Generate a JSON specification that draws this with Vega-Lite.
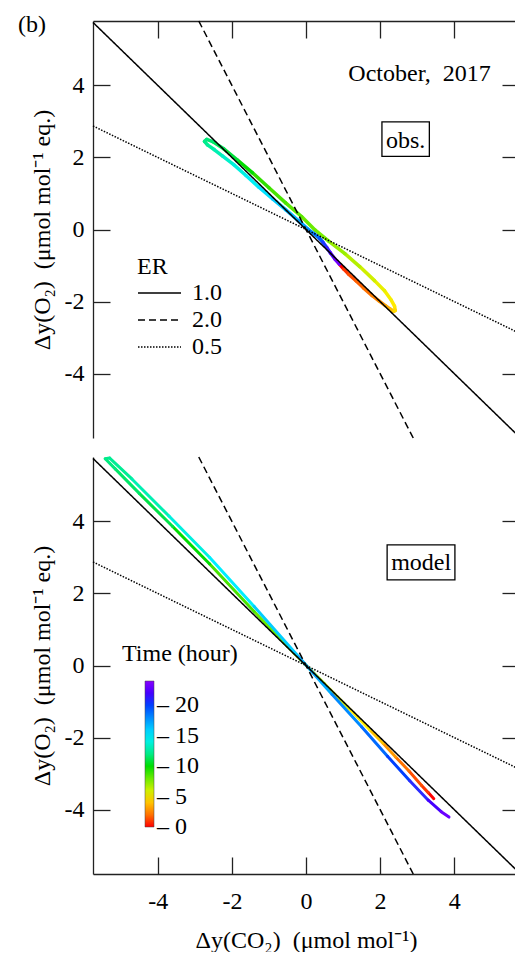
{
  "$schema": "https://vega.github.io/schema/vega-lite/v6.json",
  "autosize": {"type": "pad"},
  "padding": {"left": 17, "top": 13, "right": 0, "bottom": 0},
  "background": "white",
  "bounds": "flush",
  "spacing": 19,
  "config": {
    "font": "Liberation Serif",
    "view": {"stroke": null},
    "axis": {
      "labelFont": "Liberation Serif", "labelFontSize": 24, "labelColor": "black",
      "titleFont": "Liberation Serif", "titleFontSize": 24, "titleFontWeight": "normal", "titleColor": "black",
      "domainColor": "#222", "tickColor": "#222", "domainWidth": 1.3, "tickWidth": 1.3, "grid": false
    },
    "legend": {
      "labelFont": "Liberation Serif", "labelFontSize": 24, "labelColor": "black",
      "titleFont": "Liberation Serif", "titleFontSize": 24, "titleFontWeight": "normal", "titleColor": "black",
      "padding": 0
    },
    "text": {"font": "Liberation Serif", "fontSize": 24, "color": "black"}
  },
  "datasets": {
    "loop": [
      {"p":"obs","i":0,"t":0,"x":0.90,"y":-0.96},
      {"p":"obs","i":1,"t":0.5,"x":1.02,"y":-1.10},
      {"p":"obs","i":2,"t":1,"x":1.15,"y":-1.24},
      {"p":"obs","i":3,"t":1.5,"x":1.35,"y":-1.42},
      {"p":"obs","i":4,"t":2,"x":1.55,"y":-1.62},
      {"p":"obs","i":5,"t":2.5,"x":1.78,"y":-1.83},
      {"p":"obs","i":6,"t":3,"x":1.97,"y":-1.98},
      {"p":"obs","i":7,"t":3.5,"x":2.15,"y":-2.12},
      {"p":"obs","i":8,"t":4,"x":2.29,"y":-2.22},
      {"p":"obs","i":9,"t":4.3,"x":2.37,"y":-2.27},
      {"p":"obs","i":10,"t":4.6,"x":2.41,"y":-2.25},
      {"p":"obs","i":11,"t":4.9,"x":2.39,"y":-2.13},
      {"p":"obs","i":12,"t":5.2,"x":2.30,"y":-1.96},
      {"p":"obs","i":13,"t":5.5,"x":2.12,"y":-1.70},
      {"p":"obs","i":14,"t":6,"x":1.85,"y":-1.42},
      {"p":"obs","i":15,"t":6.5,"x":1.45,"y":-1.03},
      {"p":"obs","i":16,"t":7,"x":1.05,"y":-0.67},
      {"p":"obs","i":17,"t":7.5,"x":0.62,"y":-0.33},
      {"p":"obs","i":18,"t":8,"x":0.25,"y":-0.02},
      {"p":"obs","i":19,"t":8.5,"x":-0.12,"y":0.36},
      {"p":"obs","i":20,"t":9,"x":-0.55,"y":0.74},
      {"p":"obs","i":21,"t":9.5,"x":-1.00,"y":1.16},
      {"p":"obs","i":22,"t":10,"x":-1.45,"y":1.58},
      {"p":"obs","i":23,"t":10.5,"x":-1.85,"y":1.93},
      {"p":"obs","i":24,"t":11,"x":-2.22,"y":2.24},
      {"p":"obs","i":25,"t":11.5,"x":-2.52,"y":2.44},
      {"p":"obs","i":26,"t":11.8,"x":-2.68,"y":2.50},
      {"p":"obs","i":27,"t":12.1,"x":-2.74,"y":2.45},
      {"p":"obs","i":28,"t":12.5,"x":-2.66,"y":2.35},
      {"p":"obs","i":29,"t":13,"x":-2.48,"y":2.22},
      {"p":"obs","i":30,"t":13.5,"x":-2.25,"y":2.04},
      {"p":"obs","i":31,"t":14,"x":-1.95,"y":1.80},
      {"p":"obs","i":32,"t":14.6,"x":-1.62,"y":1.50},
      {"p":"obs","i":33,"t":15.4,"x":-1.28,"y":1.18},
      {"p":"obs","i":34,"t":16.1,"x":-0.90,"y":0.85},
      {"p":"obs","i":35,"t":16.7,"x":-0.55,"y":0.55},
      {"p":"obs","i":36,"t":17.3,"x":-0.20,"y":0.24},
      {"p":"obs","i":37,"t":17.8,"x":0.05,"y":0.01},
      {"p":"obs","i":38,"t":18.6,"x":0.22,"y":-0.12},
      {"p":"obs","i":39,"t":19.5,"x":0.36,"y":-0.24},
      {"p":"obs","i":40,"t":20.5,"x":0.46,"y":-0.36},
      {"p":"obs","i":41,"t":21.5,"x":0.56,"y":-0.50},
      {"p":"obs","i":42,"t":22.3,"x":0.66,"y":-0.65},
      {"p":"obs","i":43,"t":23.2,"x":0.78,"y":-0.82},
      {"p":"obs","i":44,"t":24,"x":0.90,"y":-0.96},
      {"p":"model","i":0,"t":0,"x":3.45,"y":-3.70},
      {"p":"model","i":1,"t":0.5,"x":3.30,"y":-3.53},
      {"p":"model","i":2,"t":1,"x":3.12,"y":-3.33},
      {"p":"model","i":3,"t":2,"x":2.78,"y":-2.93},
      {"p":"model","i":4,"t":3,"x":2.42,"y":-2.54},
      {"p":"model","i":5,"t":4,"x":2.08,"y":-2.16},
      {"p":"model","i":6,"t":5,"x":1.72,"y":-1.78},
      {"p":"model","i":7,"t":6,"x":1.15,"y":-1.18},
      {"p":"model","i":8,"t":7,"x":0.50,"y":-0.51},
      {"p":"model","i":9,"t":8,"x":-0.30,"y":0.32},
      {"p":"model","i":10,"t":9,"x":-1.40,"y":1.50},
      {"p":"model","i":11,"t":10,"x":-2.60,"y":2.82},
      {"p":"model","i":12,"t":10.7,"x":-3.60,"y":3.86},
      {"p":"model","i":13,"t":11.3,"x":-4.50,"y":4.78},
      {"p":"model","i":14,"t":11.8,"x":-5.15,"y":5.46},
      {"p":"model","i":15,"t":12.1,"x":-5.42,"y":5.74},
      {"p":"model","i":16,"t":12.4,"x":-5.30,"y":5.76},
      {"p":"model","i":17,"t":13,"x":-4.70,"y":5.18},
      {"p":"model","i":18,"t":14,"x":-3.70,"y":4.15},
      {"p":"model","i":19,"t":15,"x":-2.60,"y":3.00},
      {"p":"model","i":20,"t":16,"x":-1.40,"y":1.64},
      {"p":"model","i":21,"t":17,"x":-0.20,"y":0.24},
      {"p":"model","i":22,"t":18,"x":0.70,"y":-0.80},
      {"p":"model","i":23,"t":19,"x":1.50,"y":-1.70},
      {"p":"model","i":24,"t":20,"x":2.20,"y":-2.52},
      {"p":"model","i":25,"t":21,"x":2.80,"y":-3.20},
      {"p":"model","i":26,"t":22,"x":3.30,"y":-3.74},
      {"p":"model","i":27,"t":23,"x":3.65,"y":-4.06},
      {"p":"model","i":28,"t":24,"x":3.86,"y":-4.21}
    ],
    "er": [
      {"ER":"1.0","x":-5.75,"y":5.75,"x2":5.75,"y2":-5.75},
      {"ER":"2.0","x":-2.895,"y":5.79,"x2":2.895,"y2":-5.79},
      {"ER":"0.5","x":-5.75,"y":2.875,"x2":5.75,"y2":-2.875}
    ],
    "ann": [
      {"p":"obs","label":"(b)","x":-7.40,"y":5.48},
      {"p":"obs","label":"October,\u00a0 2017","x":3.065,"y":4.12},
      {"p":"obs","label":"obs.","x":2.69,"y":2.27},
      {"p":"model","label":"model","x":3.11,"y":2.64}
    ],
    "box": [
      {"p":"obs","x":2.05,"x2":3.33,"y":2.03,"y2":2.99},
      {"p":"model","x":2.19,"x2":4.02,"y":2.38,"y2":3.35}
    ]
  },
  "resolve": {"scale": {"color": "independent", "strokeDash": "independent", "strokeWidth": "independent"}},
  "vconcat": [
    {
      "width": 426,
      "height": 417,
      "resolve": {"axis": {"x": "independent", "y": "independent"}},
      "layer": [
        {
          "data": {"name": "loop"},
          "transform": [
            {"filter": "datum.p == 'obs'"},
            {"window": [{"op": "lead", "field": "x", "as": "xn"}, {"op": "lead", "field": "y", "as": "yn"}], "sort": [{"field": "i"}]},
            {"filter": "isValid(datum.xn)"}
          ],
          "mark": {"type": "rule", "strokeWidth": 3.5, "strokeCap": "round"},
          "encoding": {
            "x": {"field": "x", "type": "quantitative", "scale": {"domain": [-5.75, 5.75], "nice": false, "zero": false}, "axis": null},
            "y": {"field": "y", "type": "quantitative", "scale": {"domain": [-5.79, 5.79], "nice": false, "zero": false},
                  "axis": {"orient": "right", "values": [-4, -2, 0, 2, 4], "labels": false, "tickSize": -17, "title": null}},
            "x2": {"field": "xn"},
            "y2": {"field": "yn"},
            "color": {"field": "t", "type": "quantitative",
              "scale": {"domain": [0, 2.5, 5, 7.5, 10, 12.5, 15, 17.5, 20, 22, 24],
                        "range": ["#ff0000", "#ff8000", "#ffee00", "#77ee00", "#00dd00", "#00ee99", "#00eeff", "#0099ff", "#0040ff", "#4400ff", "#8800ff"]},
              "legend": null}
          }
        },
        {
          "data": {"name": "er"},
          "mark": {"type": "rule", "color": "black"},
          "encoding": {
            "x": {"field": "x", "type": "quantitative", "scale": {"domain": [-5.75, 5.75], "nice": false, "zero": false},
                  "axis": {"orient": "top", "values": [-4, -2, 0, 2, 4], "labels": false, "tickSize": -17, "title": null}},
            "y": {"field": "y", "type": "quantitative", "scale": {"domain": [-5.79, 5.79], "nice": false, "zero": false},
                  "axis": {"orient": "left", "values": [-4, -2, 0, 2, 4], "tickSize": -17, "labelPadding": 26,
                           "labelExpr": "datum.value < 0 ? '-' + abs(datum.value) : '' + datum.value",
                           "title": "Δy(O₂)\u00a0 (μmol mol⁻¹ eq.)", "titlePadding": 10}},
            "x2": {"field": "x2"},
            "y2": {"field": "y2"},
            "strokeDash": {"field": "ER", "type": "nominal",
              "scale": {"domain": ["1.0", "2.0", "0.5"], "range": [[1, 0], [7, 4], [1.5, 1.5]]},
              "legend": {"orient": "none", "legendX": 44, "legendY": 234, "title": "ER",
                         "symbolType": "stroke", "symbolSize": 1849, "symbolStrokeWidth": 1.5, "symbolStrokeColor": "black",
                         "clipHeight": 24, "rowPadding": 3, "labelOffset": 10, "titlePadding": 2}},
            "strokeWidth": {"field": "ER", "type": "nominal",
              "scale": {"domain": ["1.0", "2.0", "0.5"], "range": [1.5, 1.5, 1]}, "legend": null}
          }
        },
        {
          "data": {"name": "box"},
          "transform": [{"filter": "datum.p == 'obs'"}],
          "mark": {"type": "rect", "fill": null, "stroke": "black", "strokeWidth": 1.3},
          "encoding": {
            "x": {"field": "x", "type": "quantitative", "axis": null},
            "x2": {"field": "x2"},
            "y": {"field": "y", "type": "quantitative", "axis": null},
            "y2": {"field": "y2"}
          }
        },
        {
          "data": {"name": "ann"},
          "transform": [{"filter": "datum.p == 'obs'"}],
          "mark": {"type": "text", "align": "center", "baseline": "alphabetic"},
          "encoding": {
            "x": {"field": "x", "type": "quantitative", "axis": null},
            "y": {"field": "y", "type": "quantitative", "axis": null},
            "text": {"field": "label"}
          }
        }
      ]
    },
    {
      "width": 426,
      "height": 417,
      "resolve": {"axis": {"x": "independent", "y": "independent"}},
      "layer": [
        {
          "data": {"name": "loop"},
          "transform": [
            {"filter": "datum.p == 'model'"},
            {"window": [{"op": "lead", "field": "x", "as": "xn"}, {"op": "lead", "field": "y", "as": "yn"}], "sort": [{"field": "i"}]},
            {"filter": "isValid(datum.xn)"}
          ],
          "mark": {"type": "rule", "strokeWidth": 3, "strokeCap": "round"},
          "encoding": {
            "x": {"field": "x", "type": "quantitative", "scale": {"domain": [-5.75, 5.75], "nice": false, "zero": false}, "axis": null},
            "y": {"field": "y", "type": "quantitative", "scale": {"domain": [-5.79, 5.79], "nice": false, "zero": false},
                  "axis": {"orient": "right", "values": [-4, -2, 0, 2, 4], "labels": false, "tickSize": -17, "title": null}},
            "x2": {"field": "xn"},
            "y2": {"field": "yn"},
            "color": {"field": "t", "type": "quantitative",
              "scale": {"domain": [0, 2.5, 5, 7.5, 10, 12.5, 15, 17.5, 20, 22, 24],
                        "range": ["#ff0000", "#ff8000", "#ffee00", "#77ee00", "#00dd00", "#00ee99", "#00eeff", "#0099ff", "#0040ff", "#4400ff", "#8800ff"]},
              "legend": {"orient": "none", "legendX": 29, "legendY": 185, "direction": "vertical", "title": "Time (hour)",
                         "gradientLength": 146, "gradientThickness": 9, "gradientStrokeColor": "#444", "gradientStrokeWidth": 0.5,
                         "values": [0, 5, 10, 15, 20], "labelExpr": "'– ' + datum.label", "labelBaseline": "middle",
                         "labelOverlap": false, "labelOffset": 3, "titlePadding": 15,
                         "encode": {"title": {"update": {"dx": {"value": -23}}},
                                    "labels": {"update": {"baseline": {"value": "middle"}}}}}}
          }
        },
        {
          "data": {"name": "er"},
          "mark": {"type": "rule", "color": "black"},
          "encoding": {
            "x": {"field": "x", "type": "quantitative", "scale": {"domain": [-5.75, 5.75], "nice": false, "zero": false},
                  "axis": {"orient": "bottom", "values": [-4, -2, 0, 2, 4], "tickSize": -17, "labelPadding": 32,
                           "labelExpr": "datum.value < 0 ? '-' + abs(datum.value) : '' + datum.value",
                           "title": "Δy(CO₂)\u00a0 (μmol mol⁻¹)", "titlePadding": 15}},
            "y": {"field": "y", "type": "quantitative", "scale": {"domain": [-5.79, 5.79], "nice": false, "zero": false},
                  "axis": {"orient": "left", "values": [-4, -2, 0, 2, 4], "tickSize": -17, "labelPadding": 26,
                           "labelExpr": "datum.value < 0 ? '-' + abs(datum.value) : '' + datum.value",
                           "title": "Δy(O₂)\u00a0 (μmol mol⁻¹ eq.)", "titlePadding": 10}},
            "x2": {"field": "x2"},
            "y2": {"field": "y2"},
            "strokeDash": {"field": "ER", "type": "nominal",
              "scale": {"domain": ["1.0", "2.0", "0.5"], "range": [[1, 0], [7, 4], [1.5, 1.5]]}, "legend": null},
            "strokeWidth": {"field": "ER", "type": "nominal",
              "scale": {"domain": ["1.0", "2.0", "0.5"], "range": [1.5, 1.5, 1]}, "legend": null}
          }
        },
        {
          "data": {"name": "box"},
          "transform": [{"filter": "datum.p == 'model'"}],
          "mark": {"type": "rect", "fill": null, "stroke": "black", "strokeWidth": 1.3},
          "encoding": {
            "x": {"field": "x", "type": "quantitative", "axis": null},
            "x2": {"field": "x2"},
            "y": {"field": "y", "type": "quantitative", "axis": null},
            "y2": {"field": "y2"}
          }
        },
        {
          "data": {"name": "ann"},
          "transform": [{"filter": "datum.p == 'model'"}],
          "mark": {"type": "text", "align": "center", "baseline": "alphabetic"},
          "encoding": {
            "x": {"field": "x", "type": "quantitative", "axis": null},
            "y": {"field": "y", "type": "quantitative", "axis": null},
            "text": {"field": "label"}
          }
        }
      ]
    }
  ]
}
